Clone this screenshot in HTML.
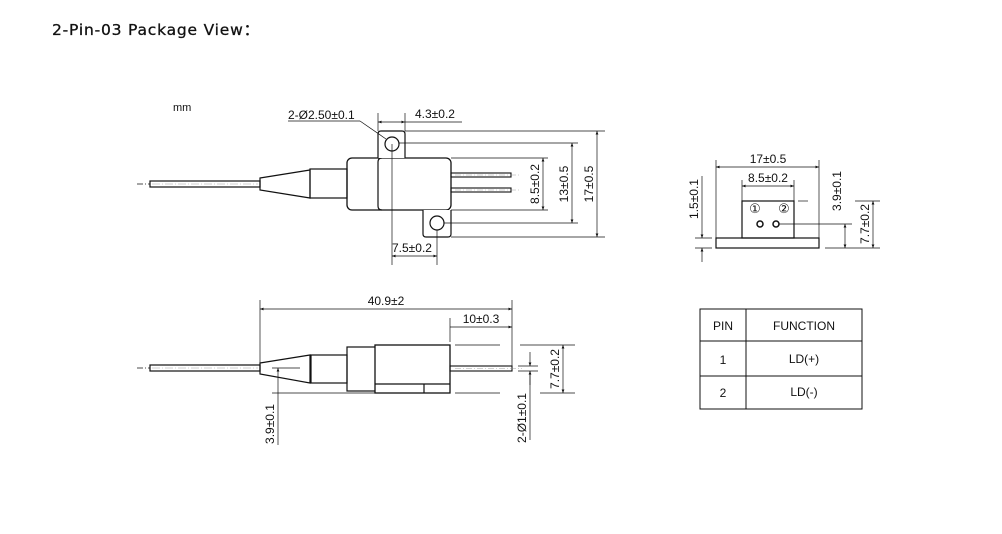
<!DOCTYPE html>
<html><head><meta charset="utf-8"><style>
html,body{margin:0;padding:0;background:#fff;width:1002px;height:534px;overflow:hidden}
svg{display:block}
text{font-family:"Liberation Sans",Arial,sans-serif;fill:#111}
</style></head><body>
<svg width="1002" height="534" viewBox="0 0 1002 534" xmlns="http://www.w3.org/2000/svg">
<defs>
<marker id="a" viewBox="0 0 10 10" refX="10" refY="5" markerWidth="7" markerHeight="5" orient="auto-start-reverse"><path d="M0,1 L10,5 L0,9 z" fill="#111"/></marker>
</defs>
<text x="52" y="35" font-size="15.5" letter-spacing="0.8" stroke="#111" stroke-width="0.3" style="font-family:'DejaVu Sans','Liberation Sans',sans-serif">2-Pin-03 Package View：</text>

<g stroke="#111" fill="none" stroke-width="1">
<!-- TOP VIEW -->
<line x1="137" y1="184" x2="150" y2="184" stroke-dasharray="6,2,1,2" stroke-width="0.7"/>
<rect x="150" y="181" width="110" height="6" stroke-width="1.2"/>
<line x1="152" y1="184" x2="258" y2="184" stroke-dasharray="8,2,1,2" stroke-width="0.4" stroke="#888"/>
<path d="M260,178 L310,170 L310,198 L260,190 Z" stroke-width="1.2"/>
<rect x="310" y="169" width="37" height="29" stroke-width="1.2"/>
<rect x="347" y="158" width="104" height="52" rx="5" stroke-width="1.3"/>
<path d="M382,158 Q378,158 378,162 L378,206 Q378,210 382,210" stroke-width="1.2"/>
<path d="M378,158 L378,134 Q378,131 381,131 L402,131 Q405,131 405,134 L405,158" stroke-width="1.2" fill="#fff"/>
<circle cx="392" cy="144" r="7" stroke-width="1.2"/>
<path d="M423,210 L423,234 Q423,237 426,237 L448,237 Q451,237 451,234 L451,210" stroke-width="1.2" fill="#fff"/>
<circle cx="437" cy="223" r="7" stroke-width="1.2"/>
<rect x="451" y="173" width="60" height="4" stroke-width="1.1"/>
<rect x="451" y="188" width="60" height="4" stroke-width="1.1"/>
<line x1="455" y1="175" x2="520" y2="175" stroke-dasharray="6,2,1,2" stroke-width="0.4" stroke="#888"/>
<line x1="455" y1="190" x2="520" y2="190" stroke-dasharray="6,2,1,2" stroke-width="0.4" stroke="#888"/>
<g stroke-width="0.7">
<line x1="405" y1="131" x2="605" y2="131"/>
<line x1="399" y1="143" x2="578" y2="143"/>
<line x1="451" y1="158" x2="548" y2="158"/>
<line x1="451" y1="210" x2="548" y2="210"/>
<line x1="444" y1="223" x2="578" y2="223"/>
<line x1="451" y1="237" x2="605" y2="237"/>
<line x1="543" y1="158" x2="543" y2="210" marker-start="url(#a)" marker-end="url(#a)"/>
<line x1="572" y1="143" x2="572" y2="223" marker-start="url(#a)" marker-end="url(#a)"/>
<line x1="597" y1="131" x2="597" y2="237" marker-start="url(#a)" marker-end="url(#a)"/>
<line x1="378" y1="113" x2="378" y2="131"/>
<line x1="405" y1="113" x2="405" y2="131"/>
<line x1="378" y1="122" x2="405" y2="122" marker-start="url(#a)" marker-end="url(#a)"/>
<line x1="405" y1="122" x2="462" y2="122"/>
<line x1="288" y1="121" x2="360" y2="121"/>
<line x1="360" y1="121" x2="386" y2="139"/>
<line x1="392" y1="144" x2="392" y2="265"/>
<line x1="437" y1="230" x2="437" y2="265"/>
<line x1="392" y1="256" x2="437" y2="256" marker-start="url(#a)" marker-end="url(#a)"/>
</g>

<!-- BOTTOM VIEW -->
<line x1="137" y1="368" x2="150" y2="368" stroke-dasharray="6,2,1,2" stroke-width="0.7"/>
<rect x="150" y="365" width="110" height="6" stroke-width="1.2"/>
<line x1="152" y1="368" x2="258" y2="368" stroke-dasharray="8,2,1,2" stroke-width="0.4" stroke="#888"/>
<path d="M260,363 L310,355 L310,383 L260,374 Z" stroke-width="1.2"/>
<rect x="311" y="355" width="36" height="28" stroke-width="1.2"/>
<rect x="347" y="347" width="31" height="44" stroke-width="1.2"/>
<rect x="375" y="345" width="75" height="48" stroke-width="1.3" fill="#fff"/>
<line x1="375" y1="384" x2="450" y2="384" stroke-width="1.2"/>
<line x1="424" y1="384" x2="424" y2="393" stroke-width="1.2"/>
<rect x="450" y="366" width="62" height="5" stroke-width="1.1"/>
<line x1="455" y1="368.5" x2="522" y2="368.5" stroke-dasharray="6,2,1,2" stroke-width="0.4" stroke="#888"/>
<g stroke-width="0.7">
<line x1="260" y1="300" x2="260" y2="368"/>
<line x1="512" y1="300" x2="512" y2="366"/>
<line x1="260" y1="309" x2="512" y2="309" marker-start="url(#a)" marker-end="url(#a)"/>
<line x1="450" y1="318" x2="450" y2="342"/>
<line x1="450" y1="327" x2="512" y2="327" marker-end="url(#a)"/>
<line x1="272" y1="368" x2="300" y2="368"/>
<line x1="272" y1="393" x2="375" y2="393"/>
<line x1="278" y1="368" x2="278" y2="445" marker-start="url(#a)"/>
<line x1="455" y1="345" x2="500" y2="345"/>
<line x1="455" y1="393" x2="500" y2="393"/>
<line x1="520" y1="345" x2="575" y2="345"/>
<line x1="540" y1="393" x2="575" y2="393"/>
<line x1="563" y1="345" x2="563" y2="393" marker-start="url(#a)" marker-end="url(#a)"/>
<line x1="518" y1="366" x2="538" y2="366"/>
<line x1="518" y1="371" x2="538" y2="371"/>
<line x1="530" y1="352" x2="530" y2="366" marker-end="url(#a)"/>
<line x1="530" y1="385" x2="530" y2="371" marker-end="url(#a)"/>
<line x1="530" y1="371" x2="530" y2="440"/>
</g>

<!-- SIDE VIEW -->
<rect x="716" y="238" width="103" height="10" stroke-width="1.2"/>
<rect x="742" y="201" width="52" height="37" stroke-width="1.2"/>
<circle cx="760" cy="224" r="3" stroke-width="1.5"/>
<circle cx="776" cy="224" r="3" stroke-width="1.5"/>
<g stroke-width="0.7">
<line x1="716" y1="160" x2="716" y2="238"/>
<line x1="819" y1="160" x2="819" y2="238"/>
<line x1="716" y1="167" x2="819" y2="167" marker-start="url(#a)" marker-end="url(#a)"/>
<line x1="742" y1="180" x2="742" y2="201"/>
<line x1="794" y1="180" x2="794" y2="201"/>
<line x1="742" y1="186" x2="794" y2="186" marker-start="url(#a)" marker-end="url(#a)"/>
<line x1="695" y1="238" x2="712" y2="238"/>
<line x1="695" y1="248" x2="712" y2="248"/>
<line x1="702" y1="176" x2="702" y2="238" marker-end="url(#a)"/>
<line x1="702" y1="262" x2="702" y2="248" marker-end="url(#a)"/>
<line x1="779" y1="224" x2="852" y2="224"/>
<line x1="798" y1="201" x2="808" y2="201"/>
<line x1="825" y1="248" x2="880" y2="248"/>
<line x1="855" y1="201" x2="880" y2="201"/>
<line x1="845" y1="224" x2="845" y2="248" marker-start="url(#a)" marker-end="url(#a)"/>
<line x1="873" y1="201" x2="873" y2="248" marker-start="url(#a)" marker-end="url(#a)"/>
</g>

<!-- TABLE -->
<rect x="700" y="309" width="162" height="100" stroke-width="1"/>
<line x1="746" y1="309" x2="746" y2="409"/>
<line x1="700" y1="341" x2="862" y2="341"/>
<line x1="700" y1="376" x2="862" y2="376"/>
</g>

<g font-size="12">
<text x="173" y="111" font-size="11">mm</text>
<text x="288" y="119">2-Ø2.50±0.1</text>
<text x="415" y="118">4.3±0.2</text>
<text x="392" y="252">7.5±0.2</text>
<text transform="translate(539,184) rotate(-90)" text-anchor="middle">8.5±0.2</text>
<text transform="translate(568,184) rotate(-90)" text-anchor="middle">13±0.5</text>
<text transform="translate(593,184) rotate(-90)" text-anchor="middle">17±0.5</text>
<text x="386" y="305" text-anchor="middle">40.9±2</text>
<text x="481" y="323" text-anchor="middle">10±0.3</text>
<text transform="translate(274,424) rotate(-90)" text-anchor="middle">3.9±0.1</text>
<text transform="translate(526,418) rotate(-90)" text-anchor="middle">2-Ø1±0.1</text>
<text transform="translate(559,369) rotate(-90)" text-anchor="middle">7.7±0.2</text>
<text x="768" y="163" text-anchor="middle">17±0.5</text>
<text x="768" y="182" text-anchor="middle">8.5±0.2</text>
<text transform="translate(698,199) rotate(-90)" text-anchor="middle">1.5±0.1</text>
<text transform="translate(841,191) rotate(-90)" text-anchor="middle">3.9±0.1</text>
<text transform="translate(869,224) rotate(-90)" text-anchor="middle">7.7±0.2</text>
<text x="755" y="213" text-anchor="middle" font-size="13" style="font-family:'DejaVu Sans',sans-serif">①</text>
<text x="784" y="213" text-anchor="middle" font-size="13" style="font-family:'DejaVu Sans',sans-serif">②</text>
<text x="723" y="330" text-anchor="middle">PIN</text>
<text x="804" y="330" text-anchor="middle">FUNCTION</text>
<text x="723" y="364" text-anchor="middle">1</text>
<text x="804" y="363" text-anchor="middle">LD(+)</text>
<text x="723" y="397" text-anchor="middle">2</text>
<text x="804" y="396" text-anchor="middle">LD(-)</text>
</g>
</svg>
</body></html>
